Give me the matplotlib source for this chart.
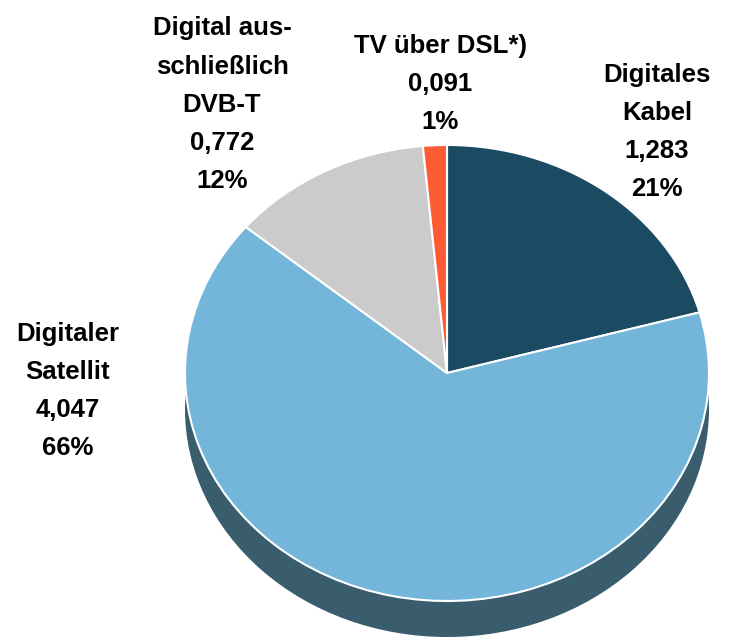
import matplotlib.pyplot as plt
from matplotlib.patches import Ellipse

# Empfangswege (Mio. Haushalte)
labels = ["Digitales\nKabel", "Digitaler\nSatellit", "Digital aus-\nschließlich\nDVB-T", "TV über DSL*)"]
values = [1.283, 4.047, 0.772, 0.091]
value_text = ["1,283", "4,047", "0,772", "0,091"]
pct_text = ["21%", "66%", "12%", "1%"]
colors = ["#1b4b63", "#73b6da", "#cbcbcb", "#fd5b33"]

plt.rcParams['font.family'] = ['Liberation Sans Narrow', 'Liberation Sans', 'DejaVu Sans']

fig = plt.figure(figsize=(7.47, 6.38), dpi=100)
ax = fig.add_axes([0, 0, 1, 1])

# pie is drawn as an ellipse: 262 px wide radius, 228 px high radius
cx, cy = 447, 373
rx, ry = 262, 228
W, H = 747, 638

# shadow / extrusion below the pie
ax.add_patch(Ellipse((0, -36 / ry), 2, 2, facecolor="#3a5d6e", edgecolor="none", zorder=0))

ax.pie(values, colors=colors, startangle=90, counterclock=False,
       wedgeprops=dict(edgecolor="white", linewidth=1.5))

ax.set_aspect('auto')
ax.set_xlim(-cx / rx, (W - cx) / rx)
ax.set_ylim(-(H - cy) / ry, cy / ry)
ax.axis('off')

# label positions in pixel coordinates (x centre, y centre from top)
label_pos = [(657, 132), (68, 391), (222, 105), (440, 84)]
for lab, v, p, (px, py) in zip(labels, value_text, pct_text, label_pos):
    ax.text((px - cx) / rx, (cy - py) / ry, lab + "\n" + v + "\n" + p,
            ha="center", va="center", fontsize=18.5, fontweight="bold",
            linespacing=1.75, color="black")

fig.savefig("out.png", dpi=100)
